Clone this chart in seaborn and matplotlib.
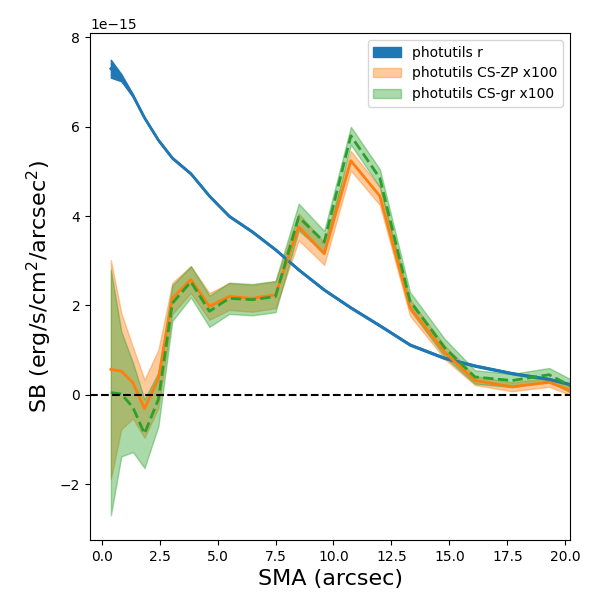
import numpy as np
import matplotlib
matplotlib.use("Agg")
import matplotlib.pyplot as plt
import seaborn as sns

sma = [0.4,0.85,1.35,1.85,2.45,3.05,3.85,4.65,5.5,6.5,7.5,8.5,9.6,10.75,12.0,13.3,14.8,16.1,17.7,19.3,20.3]
sb_r = [7.3,7.1,6.7,6.2,5.7,5.3,4.95,4.45,4.0,3.65,3.25,2.8,2.35,1.95,1.55,1.12,0.82,0.65,0.48,0.35,0.22]
sb_r_err = [0.2,0.08,0.03,0.02,0.02,0.02,0.02,0.02,0.02,0.02,0.02,0.02,0.02,0.02,0.02,0.02,0.02,0.02,0.02,0.02,0.02]
sb_zp = [0.57,0.53,0.27,-0.31,0.36,2.16,2.58,1.98,2.2,2.16,2.24,3.76,3.16,5.24,4.45,1.95,0.95,0.32,0.18,0.28,0.08]
sb_zp_err = [2.45,1.3,0.8,0.65,0.65,0.35,0.3,0.3,0.3,0.3,0.3,0.3,0.25,0.22,0.2,0.18,0.15,0.1,0.1,0.1,0.1]
sb_gr = [0.05,0.02,-0.28,-0.87,-0.1,2.05,2.53,1.87,2.16,2.13,2.2,3.98,3.42,5.8,4.85,2.1,1.05,0.4,0.32,0.45,0.18]
sb_gr_err = [2.75,1.4,1.0,0.77,0.6,0.4,0.35,0.35,0.35,0.35,0.35,0.3,0.25,0.2,0.2,0.2,0.2,0.15,0.15,0.15,0.15]

s = 1e-15
x = np.array(sma)
def arr(v): return np.array(v) * s

fig = plt.figure(figsize=(6, 6), dpi=100)
ax = fig.add_axes([0.15, 0.1, 0.80, 0.845])

c1, c2, c3 = "#1f77b4", "#ff7f0e", "#2ca02c"
ax.fill_between(x, arr(sb_r) - arr(sb_r_err), arr(sb_r) + arr(sb_r_err), color=c1, alpha=1.0, label="photutils r")
sns.lineplot(x=x, y=arr(sb_r), ax=ax, color=c1, lw=2)
ax.fill_between(x, arr(sb_zp) - arr(sb_zp_err), arr(sb_zp) + arr(sb_zp_err), color=c2, alpha=0.4, label="photutils CS-ZP x100")
sns.lineplot(x=x, y=arr(sb_zp), ax=ax, color=c2, lw=2)
ax.fill_between(x, arr(sb_gr) - arr(sb_gr_err), arr(sb_gr) + arr(sb_gr_err), color=c3, alpha=0.4, label="photutils CS-gr x100")
sns.lineplot(x=x, y=arr(sb_gr), ax=ax, color=c3, lw=2, linestyle="--")
ax.axhline(0, color="k", ls="--", lw=1.5)

ax.set_xlim(-0.5, 20.2)
ax.set_ylim(-3.25e-15, 8.1e-15)
ax.set_xlabel("SMA (arcsec)", fontsize=16)
ax.set_ylabel(r"SB (erg/s/cm$^2$/arcsec$^2$)", fontsize=16)
ax.legend(loc="upper right")
fig.savefig("out.png")
